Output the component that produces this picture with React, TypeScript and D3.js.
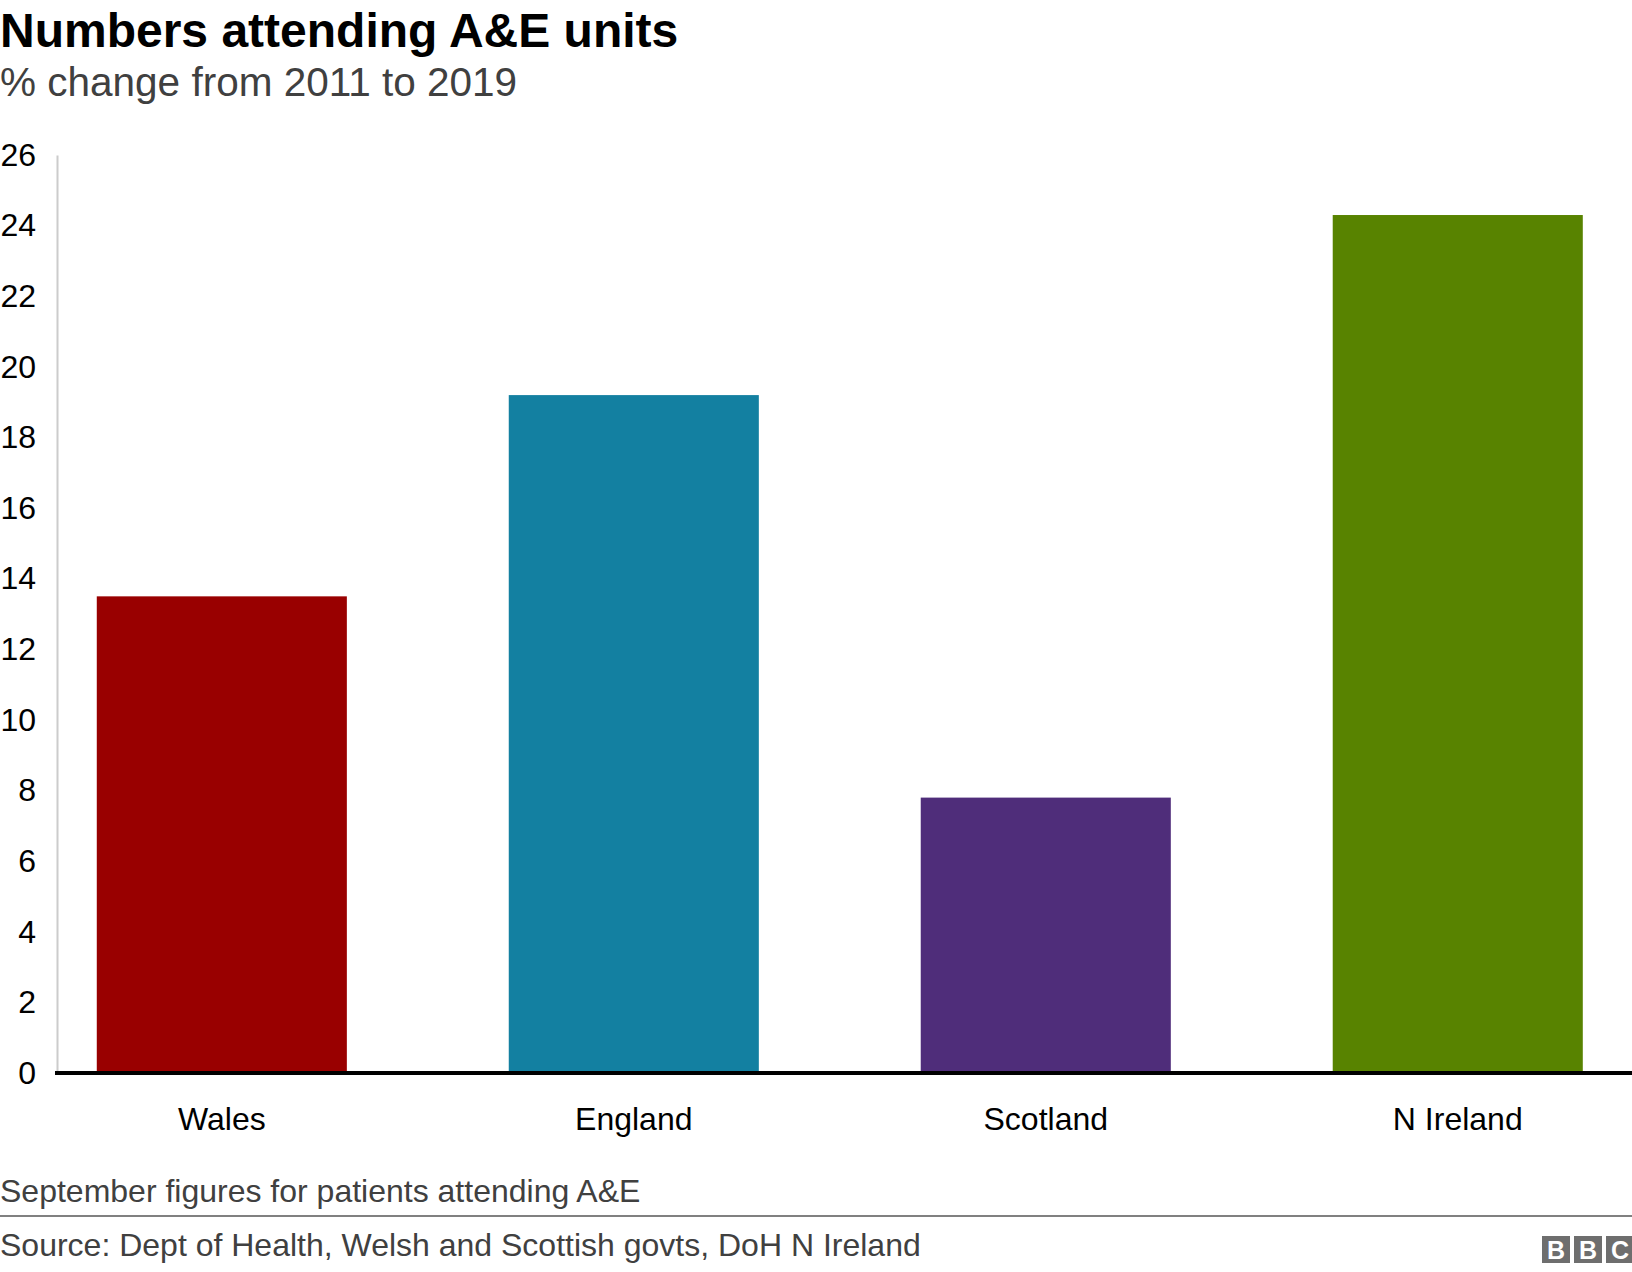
import React, { useRef, useEffect } from 'react'
import * as d3 from 'd3'

// chart values
const countries = ['Wales', 'England', 'Scotland', 'N Ireland']
const changePct = [13.5, 19.2, 7.8, 24.3]
const barColours = ['#990000', '#1380a1', '#4f2d7a', '#588300']
const yTicks = [0, 2, 4, 6, 8, 10, 12, 14, 16, 18, 20, 22, 24, 26]

const font = '"Liberation Sans", Arial, Helvetica, sans-serif'

const App = () => {
	const svgRef = useRef<SVGSVGElement | null>(null)

	//svg container width/height
	const svgWidth = 1632,
		svgHeight = 1272

	const plotLeft = 57,
		plotRight = 1632,
		plotTop = 155,
		plotBottom = 1073

	useEffect(() => {
		document.body.style.margin = '0'

		const svg = d3.select(svgRef.current)
		svg.selectAll('*').remove()

		const y = d3.scaleLinear().domain([0, 26]).range([plotBottom, plotTop])

		const x = d3
			.scaleBand()
			.domain(countries)
			.range([plotLeft, plotRight])
			.paddingInner(0.393)
			.paddingOuter(0.108)
			.align(0.447)

		const rows = countries.map((name, i) => ({ name, value: changePct[i], colour: barColours[i] }))

		// titles
		svg
			.append('text')
			.attr('x', 0)
			.attr('y', 47)
			.style('font-family', font)
			.style('font-size', '48px')
			.style('font-weight', 'bold')
			.style('fill', '#000')
			.text('Numbers attending A&E units')

		svg
			.append('text')
			.attr('x', 0)
			.attr('y', 96)
			.style('font-family', font)
			.style('font-size', '40.5px')
			.style('fill', '#404040')
			.text('% change from 2011 to 2019')

		// y axis
		const yAxis = d3
			.axisLeft(y)
			.tickValues(yTicks)
			.tickSize(0)
			.tickPadding(21)
			.tickFormat((d) => String(d))

		const yAxisG = svg.append('g').attr('transform', `translate(${plotLeft},0)`).call(yAxis)
		yAxisG.select('.domain').attr('stroke', '#cccccc').attr('stroke-width', 2)
		yAxisG
			.selectAll('text')
			.style('font-family', font)
			.style('font-size', '32px')
			.style('fill', '#000')

		// bars
		svg
			.selectAll('rect.bar')
			.data(rows)
			.enter()
			.append('rect')
			.attr('class', 'bar')
			.attr('x', (d) => x(d.name)!)
			.attr('width', x.bandwidth())
			.attr('y', (d) => y(d.value))
			.attr('height', (d) => y(0) - y(d.value))
			.attr('fill', (d) => d.colour)

		// x axis labels
		const xAxis = d3.axisBottom(x).tickSize(0).tickPadding(34)
		const xAxisG = svg
			.append('g')
			.attr('transform', `translate(0,${plotBottom})`)
			.call(xAxis)
		xAxisG.select('.domain').remove()
		xAxisG
			.selectAll('text')
			.style('font-family', font)
			.style('font-size', '32px')
			.style('fill', '#000')

		// black baseline
		svg
			.append('line')
			.attr('x1', plotLeft - 2)
			.attr('x2', svgWidth)
			.attr('y1', y(0))
			.attr('y2', y(0))
			.attr('stroke', '#000')
			.attr('stroke-width', 4)

		// footer
		svg
			.append('text')
			.attr('x', 0)
			.attr('y', 1202)
			.style('font-family', font)
			.style('font-size', '32px')
			.style('fill', '#404040')
			.text('September figures for patients attending A&E')

		svg
			.append('line')
			.attr('x1', 0)
			.attr('x2', svgWidth)
			.attr('y1', 1216)
			.attr('y2', 1216)
			.attr('stroke', '#808080')
			.attr('stroke-width', 2)

		svg
			.append('text')
			.attr('x', 0)
			.attr('y', 1256)
			.style('font-family', font)
			.style('font-size', '32px')
			.style('fill', '#404040')
			.text('Source: Dept of Health, Welsh and Scottish govts, DoH N Ireland')

		const logo = svg.append('g').attr('transform', 'translate(1542,1236)')
		logo
			.selectAll('g')
			.data(['B', 'B', 'C'])
			.enter()
			.append('g')
			.attr('transform', (d, i) => `translate(${i * 32},0)`)
			.each(function (d) {
				const g = d3.select(this)
				g.append('rect').attr('width', 28).attr('height', 27).attr('fill', '#6e6e6e')
				g.append('text')
					.attr('x', 14)
					.attr('y', 23)
					.attr('text-anchor', 'middle')
					.style('font-family', font)
					.style('font-size', '25px')
					.style('font-weight', 'bold')
					.style('fill', '#fff')
					.text(d)
			})
	}, [])

	return <svg ref={svgRef} width={svgWidth} height={svgHeight} style={{ display: 'block', background: '#fff' }}></svg>
}

export default App
